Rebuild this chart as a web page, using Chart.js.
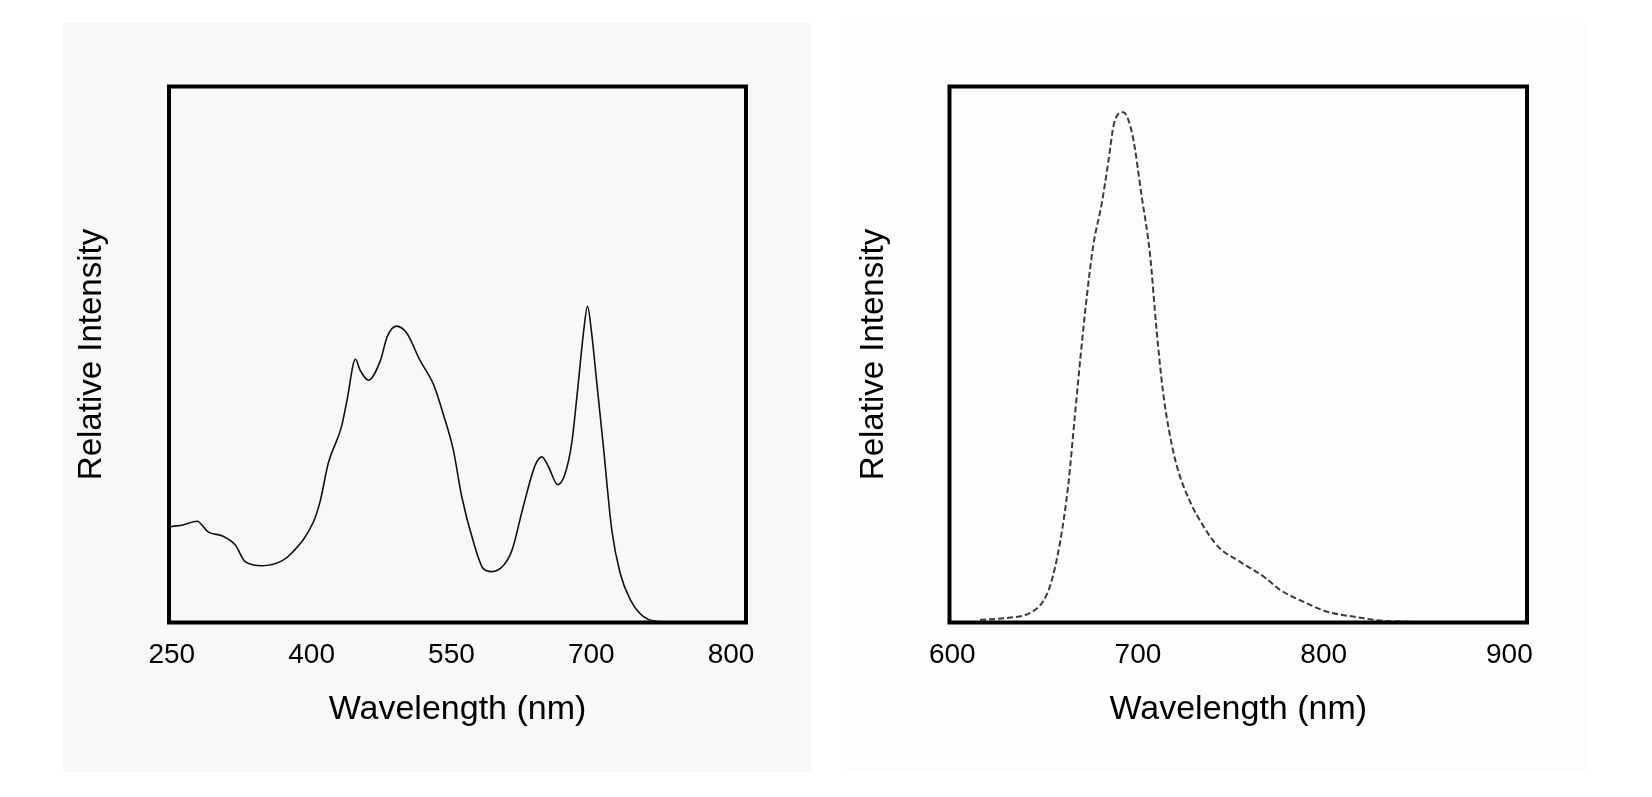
<!DOCTYPE html>
<html>
<head>
<meta charset="utf-8">
<title>Absorption and emission spectra</title>
<script src="https://cdn.jsdelivr.net/npm/chart.js@4.4.1/dist/chart.umd.min.js"></script>
<style>
  body { margin: 0; background: #fff; width: 1652px; height: 797px; position: relative; overflow: hidden; }
  .panel { position: absolute; top: 23px; height: 749px; }
  #leftPanel { left: 63px; width: 748px; background: #f8f8f8; }
  #rightPanel { left: 841px; width: 746px; background: #fdfdfd; }
  canvas { display: block; }
</style>
</head>
<body>
<div class="panel" id="leftPanel"><canvas id="absChart" width="748" height="749"></canvas></div>
<div class="panel" id="rightPanel"><canvas id="emChart" width="746" height="749"></canvas></div>
<script>
// Left panel: absorption spectrum (wavelength in nm, relative intensity 0..1)
const absWavelengths = [247, 250, 262, 277, 289, 305, 318, 329, 347, 368, 379, 402, 409, 418, 432, 438,
  447, 452, 461, 474, 481, 491, 502, 516, 531, 541, 552, 561, 574, 584, 593, 606, 615, 627, 640, 647,
  654, 664, 672, 679, 685, 692, 696, 700, 706, 713, 722, 731, 742, 756, 778, 863];
const absIntensity = [0.178, 0.179, 0.182, 0.189, 0.169, 0.161, 0.145, 0.113, 0.106, 0.115, 0.130, 0.188,
  0.225, 0.298, 0.365, 0.415, 0.491, 0.471, 0.452, 0.490, 0.533, 0.553, 0.540, 0.490, 0.443, 0.390,
  0.322, 0.235, 0.148, 0.101, 0.095, 0.107, 0.135, 0.216, 0.294, 0.309, 0.291, 0.257, 0.278, 0.334,
  0.428, 0.546, 0.590, 0.546, 0.446, 0.328, 0.173, 0.092, 0.042, 0.011, 0.0015, 0.0015];
// the original axis has its labels evenly spaced, so "800" sits one 150 nm step after 700
const absTickValues = [250, 400, 550, 700, 850];
const absTickLabels = ['250', '400', '550', '700', '800'];

// Right panel: emission spectrum
const emWavelengths = [615, 628, 642, 649, 653, 658, 662.5, 666, 669, 672.5, 676, 680.5, 684, 687, 692,
  697, 702, 706.5, 710, 713.5, 717, 721, 728, 735, 743, 755, 768, 776.5, 789, 802, 818, 832, 848];
const emIntensity = [0.005, 0.008, 0.018, 0.040, 0.072, 0.149, 0.258, 0.385, 0.494, 0.610, 0.705, 0.782,
  0.859, 0.929, 0.952, 0.910, 0.795, 0.686, 0.546, 0.430, 0.353, 0.291, 0.226, 0.181, 0.142, 0.113,
  0.085, 0.061, 0.039, 0.020, 0.010, 0.003, 0.0015];
const emTickValues = [600, 700, 800, 900];
const emTickLabels = ['600', '700', '800', '900'];

const FONT = "'Liberation Sans', Arial, Helvetica, sans-serif";

// black box round the plot area
const framePlugin = {
  id: 'frame',
  afterDraw(chart) {
    const { ctx, chartArea: a } = chart;
    ctx.save();
    ctx.strokeStyle = '#000';
    ctx.lineWidth = 4;
    ctx.strokeRect(a.left, a.top, a.right - a.left, a.bottom - a.top);
    ctx.restore();
  }
};

function makeChart(id, xs, ys, tickValues, tickLabels, xMin, xMax, lineStyle, box) {
  const points = xs.map((x, i) => ({ x: x, y: ys[i] }));
  return new Chart(document.getElementById(id), {
    type: 'line',
    data: {
      datasets: [Object.assign({
        data: points,
        pointRadius: 0,
        fill: false,
        cubicInterpolationMode: 'monotone'
      }, lineStyle)]
    },
    options: {
      responsive: false,
      animation: false,
      devicePixelRatio: 1,
      layout: { padding: { left: 0, right: box.right, top: 63.5, bottom: 0 } },
      plugins: { legend: { display: false }, tooltip: { enabled: false } },
      scales: {
        x: {
          type: 'linear',
          min: xMin,
          max: xMax,
          grid: { display: false, drawTicks: false },
          border: { display: false },
          afterBuildTicks: (axis) => { axis.ticks = tickValues.map(v => ({ value: v })); },
          afterFit: (axis) => { axis.height = 149.5; },
          ticks: {
            autoSkip: false,
            maxRotation: 0,
            padding: 16,
            color: '#000',
            font: { family: FONT, size: 28 },
            callback: (value, index) => tickLabels[index]
          },
          title: {
            display: true,
            text: 'Wavelength (nm)',
            color: '#000',
            font: { family: FONT, size: 34 },
            padding: { top: 0, bottom: 41.7 }
          }
        },
        y: {
          min: 0,
          max: 1,
          grid: { display: false, drawTicks: false },
          border: { display: false },
          ticks: { display: false },
          afterFit: (axis) => { axis.width = box.yWidth; },
          title: {
            display: true,
            text: 'Relative Intensity',
            color: '#000',
            font: { family: FONT, size: 33 },
            padding: { top: box.yTitlePad, bottom: 0 }
          }
        }
      }
    },
    plugins: [framePlugin]
  });
}

makeChart('absChart', absWavelengths, absIntensity, absTickValues, absTickLabels, 247, 866,
  { borderColor: '#111', borderWidth: 1.6 },
  { right: 65, yWidth: 106, yTitlePad: 9.2 });

makeChart('emChart', emWavelengths, emIntensity, emTickValues, emTickLabels, 598.5, 909.5,
  { borderColor: '#3a3a3a', borderWidth: 2, borderDash: [6, 3] },
  { right: 60, yWidth: 108.5, yTitlePad: 12.9 });
</script>
</body>
</html>
